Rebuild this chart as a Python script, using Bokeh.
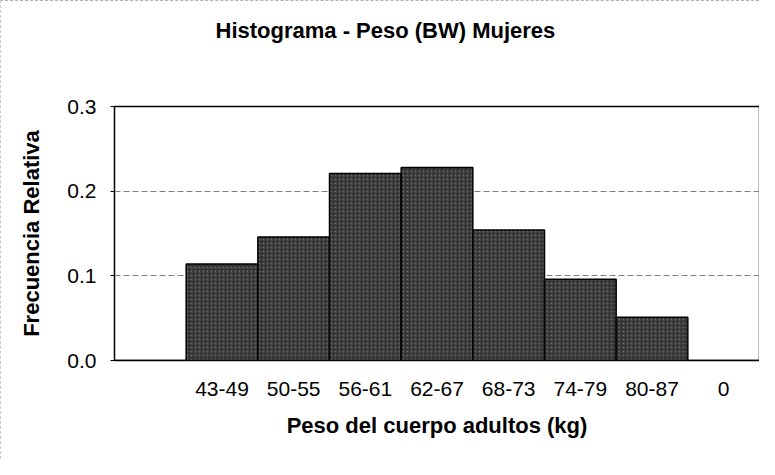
from bokeh.plotting import figure
from bokeh.models import ColumnDataSource, FixedTicker, PrintfTickFormatter, Range1d, Title
from bokeh.embed import file_html
from bokeh.resources import INLINE

# ---- data ----
categories = ["", "43-49", "50-55", "56-61", "62-67", "68-73", "74-79", "80-87", "0"]
frequencies = [0.0, 0.114, 0.146, 0.221, 0.228, 0.154, 0.096, 0.051, 0.0]
y_ticks = [0.0, 0.1, 0.2, 0.3]

title_text = "Histograma - Peso (BW) Mujeres"
x_title = "Peso del cuerpo adultos (kg)"
y_title = "Frecuencia Relativa"

FONT = "Liberation Sans"

positions = [i + 0.5 for i in range(len(categories))]
src = ColumnDataSource(dict(x=positions, top=frequencies, cat=categories))

p = figure(width=759, height=459, output_backend="svg", toolbar_location=None,
           x_range=Range1d(0, len(categories)), y_range=Range1d(0, 0.3),
           min_border_left=113, min_border_right=1, min_border_top=105, min_border_bottom=100)

p.vbar(x="x", top="top", bottom=0, width=1.0, source=src,
       fill_color="#353535", line_color="black", line_width=1.5,
       hatch_pattern=".", hatch_color="#8a8a8a", hatch_scale=4, hatch_alpha=0.6)

# spacer between title and frame
p.add_layout(Title(text=" ", text_font_size="1px", standoff=61), "above")

# title
p.title.text = title_text
p.title.align = "left"
p.title.vertical_align = "bottom"
p.title.offset = 101
p.title.standoff = 0
p.title.text_font = FONT
p.title.text_font_style = "bold"
p.title.text_font_size = "22px"
p.title.text_color = "black"

# axes
p.xaxis.ticker = FixedTicker(ticks=positions)
p.xaxis.major_label_overrides = {pos: c for pos, c in zip(positions, categories)}
p.xaxis.major_tick_line_color = None
p.xaxis.minor_tick_line_color = None
p.xaxis.axis_line_color = None
p.xaxis.major_label_standoff = 15
p.xaxis.major_label_text_font = FONT
p.xaxis.major_label_text_font_size = "21px"
p.xaxis.major_label_text_color = "black"
p.xaxis.axis_label = x_title
p.xaxis.axis_label_text_font = FONT
p.xaxis.axis_label_text_font_style = "bold"
p.xaxis.axis_label_text_font_size = "22px"
p.xaxis.axis_label_text_color = "black"
p.xaxis.axis_label_standoff = 14

p.yaxis.ticker = FixedTicker(ticks=y_ticks)
p.yaxis.formatter = PrintfTickFormatter(format="%.1f")
p.yaxis.axis_line_color = None
p.yaxis.major_tick_out = 4
p.yaxis.major_tick_in = 0
p.yaxis.major_tick_line_color = "black"
p.yaxis.minor_tick_line_color = None
p.yaxis.major_label_standoff = 14
p.yaxis.major_label_text_font = FONT
p.yaxis.major_label_text_font_size = "21px"
p.yaxis.major_label_text_color = "black"
p.yaxis.axis_label = y_title
p.yaxis.axis_label_text_font = FONT
p.yaxis.axis_label_text_font_style = "bold"
p.yaxis.axis_label_text_font_size = "22px"
p.yaxis.axis_label_text_color = "black"
p.yaxis.axis_label_standoff = 20

# grid
p.xgrid.grid_line_color = None
p.ygrid.ticker = FixedTicker(ticks=y_ticks)
p.ygrid.grid_line_color = "#808080"
p.ygrid.grid_line_dash = "6 3"
p.ygrid.grid_line_width = 1

p.outline_line_color = "black"
p.outline_line_width = 1.5

p.styles = {"border-top": "1px dashed #b0b0b0", "border-left": "1px dashed #c8c8c8"}

open("out.html", "w").write(file_html(p, INLINE))
